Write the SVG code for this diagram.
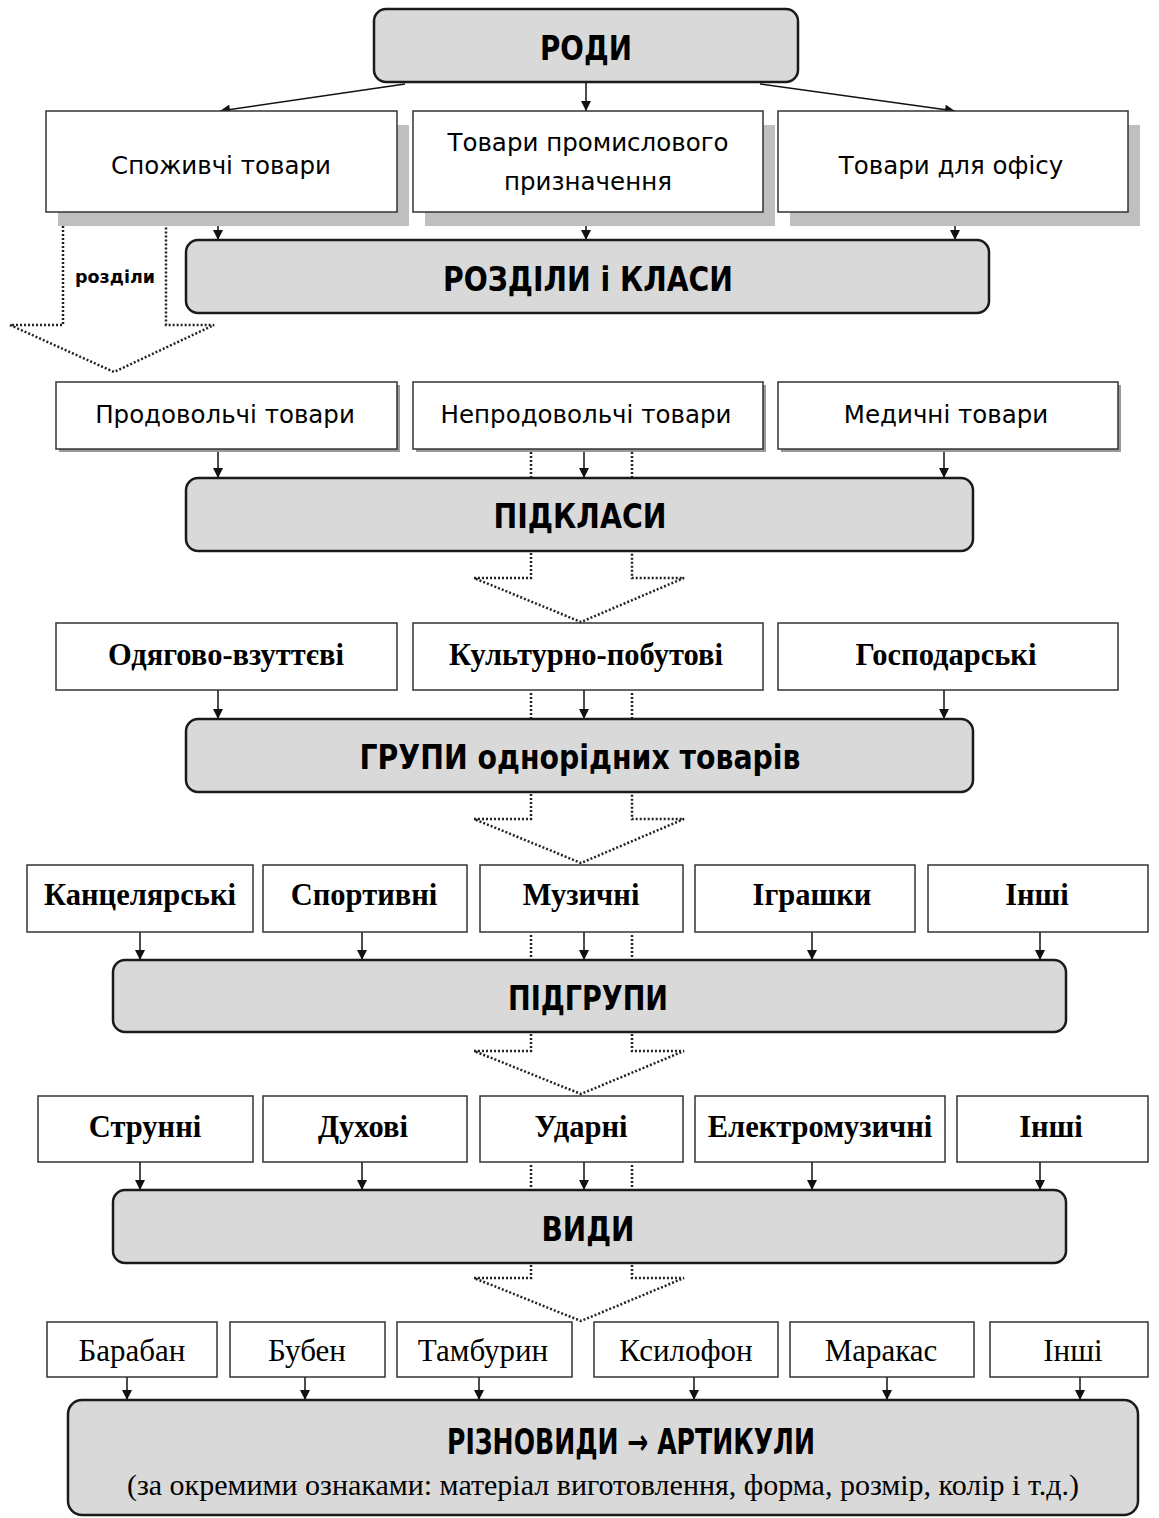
<svg xmlns="http://www.w3.org/2000/svg" width="1159" height="1518" viewBox="0 0 1159 1518">
<defs>
<marker id="ah" viewBox="0 0 10 10" refX="10" refY="5" markerWidth="12" markerHeight="10" markerUnits="userSpaceOnUse" orient="auto">
<path d="M0,0 L10,5 L0,10 z" fill="#111"/>
</marker>
<style>
.main{fill:#d9d9d9;stroke:#1a1a1a;stroke-width:2.5}
.box{fill:#fff;stroke:#333;stroke-width:1.5}
.sh{fill:#bfbfbf}
.sh2{fill:#9a9a9a}
.t{font-family:"DejaVu Sans",sans-serif;fill:#000;text-anchor:middle;dominant-baseline:central}
.tt{font-size:34px;font-weight:bold}
.tr{font-size:24.5px}
.s{font-family:"Liberation Serif",serif;fill:#000;text-anchor:middle;dominant-baseline:central}
.sb{font-size:30.5px;font-weight:bold}
.sr{font-size:31px}
.ln{stroke:#111;stroke-width:1.5;fill:none}
.dot{stroke:#222;stroke-width:2.5;fill:none;stroke-dasharray:2 2}
</style>
</defs>

<g id="connectors">
<line class="ln" x1="405" y1="84" x2="220" y2="111" marker-end="url(#ah)"/>
<line class="ln" x1="586" y1="82" x2="586" y2="111" marker-end="url(#ah)"/>
<line class="ln" x1="760" y1="84" x2="955" y2="111" marker-end="url(#ah)"/>
<line class="ln" x1="218" y1="212" x2="218" y2="240" marker-end="url(#ah)"/>
<line class="ln" x1="586" y1="212" x2="586" y2="240" marker-end="url(#ah)"/>
<line class="ln" x1="955" y1="212" x2="955" y2="240" marker-end="url(#ah)"/>
<path class="dot" d="M63,214 V325 H10 L114,372 L214,325 H166 V214"/>

<line class="ln" x1="218" y1="449" x2="218" y2="478" marker-end="url(#ah)"/>
<line class="ln" x1="584" y1="449" x2="584" y2="478" marker-end="url(#ah)"/>
<line class="ln" x1="944" y1="449" x2="944" y2="478" marker-end="url(#ah)"/>
<line class="dot" x1="531" y1="452" x2="531" y2="477"/>
<line class="dot" x1="632" y1="452" x2="632" y2="477"/>
<path class="dot" d="M531,553 V578 H474 L581,622 L684,578 H632 V553"/>

<line class="ln" x1="218" y1="690" x2="218" y2="719" marker-end="url(#ah)"/>
<line class="ln" x1="584" y1="690" x2="584" y2="719" marker-end="url(#ah)"/>
<line class="ln" x1="944" y1="690" x2="944" y2="719" marker-end="url(#ah)"/>
<line class="dot" x1="531" y1="693" x2="531" y2="718"/>
<line class="dot" x1="632" y1="693" x2="632" y2="718"/>
<path class="dot" d="M531,794 V819 H474 L581,863 L684,819 H632 V794"/>

<line class="ln" x1="140" y1="932" x2="140" y2="960" marker-end="url(#ah)"/>
<line class="ln" x1="362" y1="932" x2="362" y2="960" marker-end="url(#ah)"/>
<line class="ln" x1="584" y1="932" x2="584" y2="960" marker-end="url(#ah)"/>
<line class="ln" x1="812" y1="932" x2="812" y2="960" marker-end="url(#ah)"/>
<line class="ln" x1="1040" y1="932" x2="1040" y2="960" marker-end="url(#ah)"/>
<line class="dot" x1="531" y1="935" x2="531" y2="959"/>
<line class="dot" x1="632" y1="935" x2="632" y2="959"/>
<path class="dot" d="M531,1034 V1051 H474 L581,1094 L684,1051 H632 V1034"/>

<line class="ln" x1="140" y1="1162" x2="140" y2="1190" marker-end="url(#ah)"/>
<line class="ln" x1="362" y1="1162" x2="362" y2="1190" marker-end="url(#ah)"/>
<line class="ln" x1="584" y1="1162" x2="584" y2="1190" marker-end="url(#ah)"/>
<line class="ln" x1="812" y1="1162" x2="812" y2="1190" marker-end="url(#ah)"/>
<line class="ln" x1="1040" y1="1162" x2="1040" y2="1190" marker-end="url(#ah)"/>
<line class="dot" x1="531" y1="1165" x2="531" y2="1189"/>
<line class="dot" x1="632" y1="1165" x2="632" y2="1189"/>
<path class="dot" d="M531,1265 V1278 H474 L581,1321 L684,1278 H632 V1265"/>

<line class="ln" x1="127" y1="1377" x2="127" y2="1400" marker-end="url(#ah)"/>
<line class="ln" x1="305" y1="1377" x2="305" y2="1400" marker-end="url(#ah)"/>
<line class="ln" x1="479" y1="1377" x2="479" y2="1400" marker-end="url(#ah)"/>
<line class="ln" x1="694" y1="1377" x2="694" y2="1400" marker-end="url(#ah)"/>
<line class="ln" x1="887" y1="1377" x2="887" y2="1400" marker-end="url(#ah)"/>
<line class="ln" x1="1080" y1="1377" x2="1080" y2="1400" marker-end="url(#ah)"/>
</g>

<text class="t" x="115" y="276" style="font-size:18px;font-weight:bold" textLength="80" lengthAdjust="spacingAndGlyphs">розділи</text>

<g id="rody"><rect class="main" x="374" y="9" width="424" height="73" rx="12"/><text class="t tt" x="586" y="48" textLength="92" lengthAdjust="spacingAndGlyphs">РОДИ</text></g>

<g id="spozhyvchi"><rect class="sh" x="58" y="125" width="351" height="101"/><rect class="box" x="46" y="111" width="351" height="101"/><text class="t tr" x="221" y="165">Споживчі товари</text></g>
<g id="promyslovi"><rect class="sh" x="425" y="125" width="350" height="101"/><rect class="box" x="413" y="111" width="350" height="101"/><text class="t tr" x="588" y="142">Товари промислового</text><text class="t tr" x="588" y="181">призначення</text></g>
<g id="ofis"><rect class="sh" x="790" y="125" width="350" height="101"/><rect class="box" x="778" y="111" width="350" height="101"/><text class="t tr" x="951" y="165">Товари для офісу</text></g>

<g id="rozdily"><rect class="main" x="186" y="240" width="803" height="73" rx="12"/><text class="t tt" x="588" y="279" textLength="290" lengthAdjust="spacingAndGlyphs">РОЗДІЛИ і КЛАСИ</text></g>

<g id="prodovolchi"><rect class="sh2" x="59" y="385" width="341" height="67"/><rect class="box" x="56" y="382" width="341" height="67"/><text class="t tr" x="225" y="414">Продовольчі товари</text></g>
<g id="neprodovolchi"><rect class="sh2" x="416" y="385" width="350" height="67"/><rect class="box" x="413" y="382" width="350" height="67"/><text class="t tr" x="586" y="414">Непродовольчі товари</text></g>
<g id="medychni"><rect class="sh2" x="781" y="385" width="340" height="67"/><rect class="box" x="778" y="382" width="340" height="67"/><text class="t tr" x="946" y="414">Медичні товари</text></g>

<g id="pidklasy"><rect class="main" x="186" y="478" width="787" height="73" rx="12"/><text class="t tt" x="580" y="516" textLength="173" lengthAdjust="spacingAndGlyphs">ПІДКЛАСИ</text></g>

<g id="odyahovo"><rect class="box" x="56" y="623" width="341" height="67"/><text class="s sb" x="226" y="655">Одягово-взуттєві</text></g>
<g id="kulturno"><rect class="box" x="413" y="623" width="350" height="67"/><text class="s sb" x="586" y="655">Культурно-побутові</text></g>
<g id="hospodarski"><rect class="box" x="778" y="623" width="340" height="67"/><text class="s sb" x="946" y="655">Господарські</text></g>

<g id="hrupy"><rect class="main" x="186" y="719" width="787" height="73" rx="12"/><text class="t tt" x="580" y="757" textLength="441" lengthAdjust="spacingAndGlyphs">ГРУПИ однорідних товарів</text></g>

<g id="kantseliarski"><rect class="box" x="27" y="865" width="226" height="67"/><text class="s sb" x="140" y="895">Канцелярські</text></g>
<g id="sportyvni"><rect class="box" x="263" y="865" width="204" height="67"/><text class="s sb" x="364" y="895">Спортивні</text></g>
<g id="muzychni"><rect class="box" x="480" y="865" width="203" height="67"/><text class="s sb" x="581" y="895">Музичні</text></g>
<g id="ihrashky"><rect class="box" x="695" y="865" width="220" height="67"/><text class="s sb" x="812" y="895">Іграшки</text></g>
<g id="inshi1"><rect class="box" x="928" y="865" width="220" height="67"/><text class="s sb" x="1037" y="895">Інші</text></g>

<g id="pidhrupy"><rect class="main" x="113" y="960" width="953" height="72" rx="12"/><text class="t tt" x="588" y="998" textLength="160" lengthAdjust="spacingAndGlyphs">ПІДГРУПИ</text></g>

<g id="strunni"><rect class="box" x="38" y="1096" width="215" height="66"/><text class="s sb" x="145" y="1127">Струнні</text></g>
<g id="dukhovi"><rect class="box" x="263" y="1096" width="204" height="66"/><text class="s sb" x="363" y="1127">Духові</text></g>
<g id="udarni"><rect class="box" x="480" y="1096" width="203" height="66"/><text class="s sb" x="581" y="1127">Ударні</text></g>
<g id="elektromuzychni"><rect class="box" x="695" y="1096" width="250" height="66"/><text class="s sb" x="820" y="1127">Електромузичні</text></g>
<g id="inshi2"><rect class="box" x="957" y="1096" width="191" height="66"/><text class="s sb" x="1051" y="1127">Інші</text></g>

<g id="vydy"><rect class="main" x="113" y="1190" width="953" height="73" rx="12"/><text class="t tt" x="588" y="1229" textLength="93" lengthAdjust="spacingAndGlyphs">ВИДИ</text></g>

<g id="baraban"><rect class="box" x="47" y="1322" width="170" height="55"/><text class="s sr" x="132" y="1350">Барабан</text></g>
<g id="buben"><rect class="box" x="230" y="1322" width="155" height="55"/><text class="s sr" x="307" y="1350">Бубен</text></g>
<g id="tamburyn"><rect class="box" x="397" y="1322" width="175" height="55"/><text class="s sr" x="483" y="1350">Тамбурин</text></g>
<g id="ksylofon"><rect class="box" x="594" y="1322" width="184" height="55"/><text class="s sr" x="686" y="1350">Ксилофон</text></g>
<g id="marakas"><rect class="box" x="790" y="1322" width="184" height="55"/><text class="s sr" x="881" y="1350">Маракас</text></g>
<g id="inshi3"><rect class="box" x="990" y="1322" width="158" height="55"/><text class="s sr" x="1073" y="1350">Інші</text></g>

<g id="riznovydy"><rect class="main" x="68" y="1400" width="1070" height="115" rx="14"/><text class="t" x="631" y="1442" style="font-size:35px;font-weight:bold" textLength="368" lengthAdjust="spacingAndGlyphs">РІЗНОВИДИ → АРТИКУЛИ</text><text class="s" x="603" y="1484" style="font-size:30px">(за окремими ознаками: матеріал виготовлення, форма, розмір, колір і т.д.)</text></g>
</svg>
